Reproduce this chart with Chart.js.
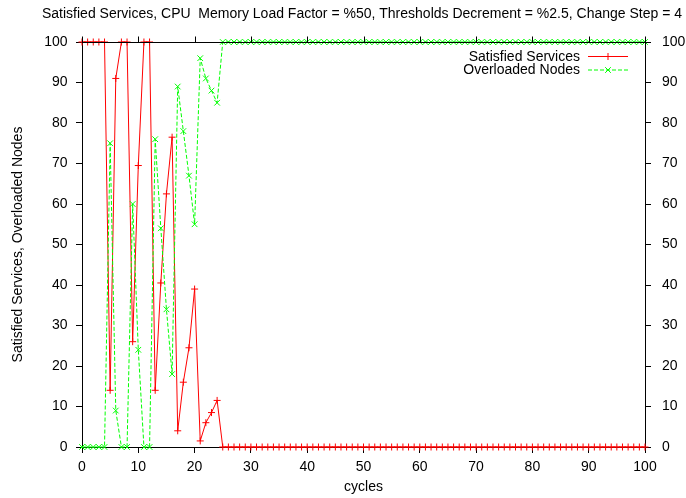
<!DOCTYPE html>
<html>
<head>
<meta charset="utf-8">
<script src="https://cdn.jsdelivr.net/npm/chart.js@4.4.1/dist/chart.umd.min.js"></script>
<style>
  body { margin: 0; background: #fff; }
  canvas { display: block; }
</style>
</head>
<body>
<canvas id="myChart" width="686" height="498"></canvas>
<script>
// cycles on the x axis
const cycles = [
  0, 1, 2, 3, 4, 5, 6, 7, 8, 9, 10, 11, 12, 13, 14, 15, 16, 17, 18, 19, 20,
  21, 22, 23, 24, 25, 26, 27, 28, 29, 30, 31, 32, 33, 34, 35, 36, 37, 38, 39, 40,
  41, 42, 43, 44, 45, 46, 47, 48, 49, 50, 51, 52, 53, 54, 55, 56, 57, 58, 59, 60,
  61, 62, 63, 64, 65, 66, 67, 68, 69, 70, 71, 72, 73, 74, 75, 76, 77, 78, 79, 80,
  81, 82, 83, 84, 85, 86, 87, 88, 89, 90, 91, 92, 93, 94, 95, 96, 97, 98, 99, 100
];

const satisfiedServices = [
  100, 100, 100, 100, 100, 14, 91, 100, 100, 26, 69.5, 100, 100, 14, 40.5, 62.5, 76.5, 4, 16, 24.5, 39,
  1.5, 6, 8.5, 11.5, 0, 0, 0, 0, 0, 0, 0, 0, 0, 0, 0, 0, 0, 0, 0, 0,
  0, 0, 0, 0, 0, 0, 0, 0, 0, 0, 0, 0, 0, 0, 0, 0, 0, 0, 0, 0,
  0, 0, 0, 0, 0, 0, 0, 0, 0, 0, 0, 0, 0, 0, 0, 0, 0, 0, 0, 0,
  0, 0, 0, 0, 0, 0, 0, 0, 0, 0, 0, 0, 0, 0, 0, 0, 0, 0, 0, 0
];

const overloadedNodes = [
  0, 0, 0, 0, 0, 75, 9, 0, 0, 60, 24, 0, 0, 76, 54, 34, 18, 89, 78, 67, 55,
  96, 91, 88, 85, 100, 100, 100, 100, 100, 100, 100, 100, 100, 100, 100, 100, 100, 100, 100, 100,
  100, 100, 100, 100, 100, 100, 100, 100, 100, 100, 100, 100, 100, 100, 100, 100, 100, 100, 100, 100,
  100, 100, 100, 100, 100, 100, 100, 100, 100, 100, 100, 100, 100, 100, 100, 100, 100, 100, 100, 100,
  100, 100, 100, 100, 100, 100, 100, 100, 100, 100, 100, 100, 100, 100, 100, 100, 100, 100, 100, 100
];

const seriesNames = ['Satisfied Services', 'Overloaded Nodes'];
const titleText = 'Satisfied Services, CPU  Memory Load Factor = %50, Thresholds Decrement = %2.5, Change Step = 4';
const xTitle = 'cycles';
const yTitle = 'Satisfied Services, Overloaded Nodes';

const FONT = '"Liberation Sans", Arial, sans-serif';
Chart.defaults.font.family = FONT;
Chart.defaults.font.size = 14;
Chart.defaults.color = '#000';

// title over the plot, top border with its ticks, and the key in the upper right corner
const frameAndKey = {
  id: 'frameAndKey',
  afterDraw(chart) {
    const ctx = chart.ctx;
    const area = chart.chartArea;
    const xs = chart.scales.x;
    ctx.save();

    ctx.fillStyle = '#000';
    ctx.font = '14px ' + FONT;
    ctx.textAlign = 'center';
    ctx.textBaseline = 'middle';
    ctx.fillText(titleText, (area.left + area.right) / 2 - 1.5, 14.5);

    ctx.strokeStyle = '#000';
    ctx.lineWidth = 1;
    ctx.beginPath();
    const top = Math.round(area.top) + 0.5;
    ctx.moveTo(area.left, top);
    ctx.lineTo(area.right + 1, top);
    xs.ticks.forEach(t => {
      const px = Math.round(xs.getPixelForValue(t.value)) + 0.5;
      ctx.moveTo(px, top);
      ctx.lineTo(px, top - 6);
    });
    ctx.stroke();

    // key
    ctx.textAlign = 'right';
    const rows = [56.5, 70];
    chart.data.datasets.forEach((ds, i) => {
      const y = rows[i];
      ctx.fillStyle = '#000';
      ctx.fillText(ds.label, 580, y + 0.5);
      ctx.strokeStyle = ds.borderColor;
      ctx.lineWidth = 1;
      ctx.setLineDash(ds.borderDash || []);
      ctx.beginPath();
      ctx.moveTo(588, y);
      ctx.lineTo(628, y);
      ctx.stroke();
      ctx.setLineDash([]);
      Chart.helpers.drawPoint(ctx, {
        pointStyle: ds.pointStyle,
        radius: ds.pointRadius,
        borderWidth: 1,
        rotation: 0
      }, 608, y);
    });
    ctx.restore();
  }
};

const ctx = document.getElementById('myChart');

new Chart(ctx, {
  type: 'line',
  data: {
    labels: cycles,
    datasets: [{
      label: seriesNames[0],
      data: satisfiedServices,
      borderColor: '#ff0000',
      backgroundColor: '#ff0000',
      borderWidth: 1,
      pointStyle: 'cross',
      pointRadius: 3.5,
      pointBorderWidth: 1,
      tension: 0,
      fill: false,
      clip: false,
      order: 1
    }, {
      label: seriesNames[1],
      data: overloadedNodes,
      borderColor: '#00ff00',
      backgroundColor: '#00ff00',
      borderWidth: 1,
      borderDash: [4, 2],
      pointStyle: 'crossRot',
      pointRadius: 4,
      pointBorderWidth: 1,
      tension: 0,
      fill: false,
      clip: false,
      order: 0
    }]
  },
  options: {
    responsive: false,
    animation: false,
    layout: { padding: { top: 42, left: 0, right: 0, bottom: 0 } },
    plugins: {
      legend: { display: false },
      tooltip: { enabled: false },
      title: { display: false }
    },
    scales: {
      x: {
        type: 'linear',
        position: 'bottom',
        min: 0,
        max: 100,
        ticks: { stepSize: 10, padding: 5.5, maxRotation: 0 },
        grid: { drawOnChartArea: false, drawTicks: true, tickLength: 6, color: '#000' },
        border: { display: true, color: '#000', width: 1 },
        title: { display: true, text: xTitle, padding: { top: 0, bottom: 2.6 } },
        afterFit(scale) { scale.height = 51; }
      },
      y: {
        type: 'linear',
        position: 'left',
        min: 0,
        max: 100,
        ticks: { stepSize: 10, padding: 8.5 },
        grid: { drawOnChartArea: false, drawTicks: true, tickLength: 6, color: '#000' },
        border: { display: true, color: '#000', width: 1 },
        title: { display: true, text: yTitle, padding: { top: 9.6, bottom: 0 } },
        afterFit(scale) { scale.width = 82; }
      },
      y2: {
        type: 'linear',
        position: 'right',
        min: 0,
        max: 100,
        ticks: { stepSize: 10, padding: 11 },
        grid: { drawOnChartArea: false, drawTicks: true, tickLength: 6, color: '#000' },
        border: { display: true, color: '#000', width: 1 },
        afterFit(scale) { scale.width = 41; }
      }
    }
  },
  plugins: [frameAndKey]
});
</script>
</body>
</html>
